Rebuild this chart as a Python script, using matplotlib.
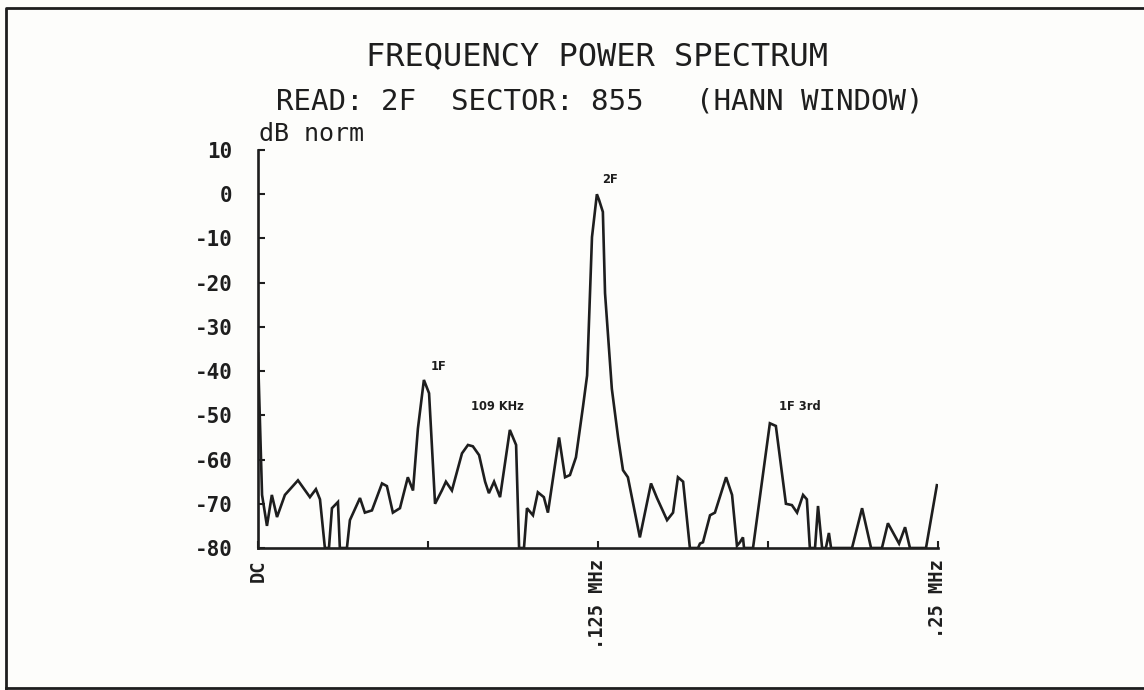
import matplotlib
matplotlib.use("Agg")
import matplotlib.pyplot as plt
from matplotlib.lines import Line2D

# Espectro (frecuencia en kHz, nivel en dB normalizado)
freq_khz = [0, 1.5, 3.3, 5.1, 7.0, 9.9, 14.7, 19.1, 21.3, 22.8, 24.6, 26.1,
            27.2, 29.4, 30.1, 32.7, 33.8, 37.5, 39.3, 41.9, 45.6, 47.4, 49.6,
            52.2, 55.1, 57.0, 58.8, 61.0, 62.9, 65.1, 67.6, 69.1, 71.3, 75.0,
            77.2, 79.0, 81.3, 83.5, 84.9, 86.8, 89.0, 92.6, 94.9, 96.0, 97.8,
            98.9, 101.1, 102.9, 105.1, 106.6, 110.7, 112.9, 114.7, 116.9,
            119.5, 121.0, 122.8, 124.6, 125.4, 126.8, 127.6, 130.1, 132.4,
            134.2, 136.0, 140.4, 144.5, 146.7, 150.4, 152.6, 154.4, 156.3,
            158.8, 161.8, 162.5, 163.6, 166.2, 168.0, 172.1, 174.3, 176.1,
            177.2, 178.3, 178.7, 182.0, 188.2, 190.4, 194.1, 196.3, 198.2,
            200.4, 201.8, 202.9, 204.8, 205.9, 207.4, 208.8, 209.9, 210.7,
            218.4, 222.1, 225.4, 229.4, 231.6, 235.7, 237.9, 239.7, 245.6,
            249.6]
nivel_db = [-36, -68, -75, -68, -73, -68, -64.7, -68.5, -66.7, -69, -80, -80,
            -71, -69.6, -80, -80, -73.7, -68.7, -72, -71.5, -65.4, -66, -72,
            -71, -64, -67, -53, -42, -45, -70, -67, -65, -67, -58.6,
            -56.7, -57, -59, -65, -67.6, -65, -68.5, -53.3, -56.7, -80, -80,
            -71, -72.6, -67.4, -68.5, -72, -55, -64, -63.5, -59.5,
            -48, -41, -9.7, 0, -1.3, -4, -22.4, -44, -55,
            -62.4, -64, -77.6, -65.4, -68.7, -73.7, -72, -64, -65,
            -80, -80, -79, -78.7, -72.6, -72, -64, -68, -79.5,
            -78.7, -77.6, -80, -80, -51.8, -52.4, -70, -70.3, -72,
            -68, -69, -80, -80, -70.5, -80, -80, -76.6, -80,
            -80, -71, -80, -80, -74.4, -79, -75.3, -80, -80,
            -65.8]

yticks = [10, 0, -10, -20, -30, -40, -50, -60, -70, -80]
xticks_major = [0, 125, 250]
xtick_labels = ["DC", ".125 MHz", ".25 MHz"]
xticks_minor = [62.5, 187.5]

# etiquetas de picos: (texto, frecuencia, nivel de la base del texto)
picos = [("1F", 63.5, -40.5), ("109 KHz", 78.5, -49.5), ("2F", 126.5, 1.8),
         ("1F 3rd", 191.5, -49.5)]

tinta = "#1e1e1e"
fuente = "DejaVu Sans Mono"

fig = plt.figure(figsize=(11.44, 6.9), dpi=100, facecolor="#fdfdfb")
ax = fig.add_axes([0.2255, 0.2058, 0.5944, 0.5768])
ax.set_facecolor("none")

ax.plot(freq_khz, nivel_db, color=tinta, linewidth=1.9, solid_joinstyle="miter")

ax.set_xlim(0, 250)
ax.set_ylim(-80, 10)
for s in ["top", "right"]:
    ax.spines[s].set_visible(False)
for s in ["left", "bottom"]:
    ax.spines[s].set_linewidth(1.9)
    ax.spines[s].set_color(tinta)

ax.set_yticks(yticks)
ax.set_yticklabels([str(v) for v in yticks], fontfamily=fuente,
                   fontsize=15, fontweight="bold", color=tinta)
ax.tick_params(axis="y", direction="in", length=5, width=1.5, pad=18.5,
               colors=tinta)

ax.set_xticks(xticks_major)
ax.set_xticks(xticks_minor, minor=True)
ax.set_xticklabels(xtick_labels, rotation=90, fontfamily=fuente,
                   fontsize=13.5, fontweight="bold", color=tinta, va="top")
ax.tick_params(axis="x", which="both", direction="in", length=5, width=1.5,
               pad=8, colors=tinta)

ax.text(0.3, 11.0, "dB norm", fontfamily=fuente, fontsize=18,
        color=tinta, ha="left", va="bottom")

for texto, f, db in picos:
    ax.text(f, db, texto, fontsize=8.3, fontweight="bold", color=tinta,
            ha="left", va="bottom")

fig.text(0.522, 0.918, "FREQUENCY POWER SPECTRUM", fontfamily=fuente,
         fontsize=23, color=tinta, ha="center", va="center")
fig.text(0.524, 0.853, "READ: 2F  SECTOR: 855   (HANN WINDOW)",
         fontfamily=fuente, fontsize=21, color=tinta, ha="center",
         va="center")

# marco exterior
W, H = 1144, 690
fig.add_artist(Line2D([6 / W, 6 / W, 1.0], [1 - 688 / H, 1 - 8 / H, 1 - 8 / H],
                      transform=fig.transFigure, color=tinta, linewidth=2))
fig.add_artist(Line2D([6 / W, 1.0], [1 - 688 / H, 1 - 688 / H],
                      transform=fig.transFigure, color=tinta, linewidth=2))

plt.savefig("out.png", dpi=100, facecolor=fig.get_facecolor())
plt.close()
